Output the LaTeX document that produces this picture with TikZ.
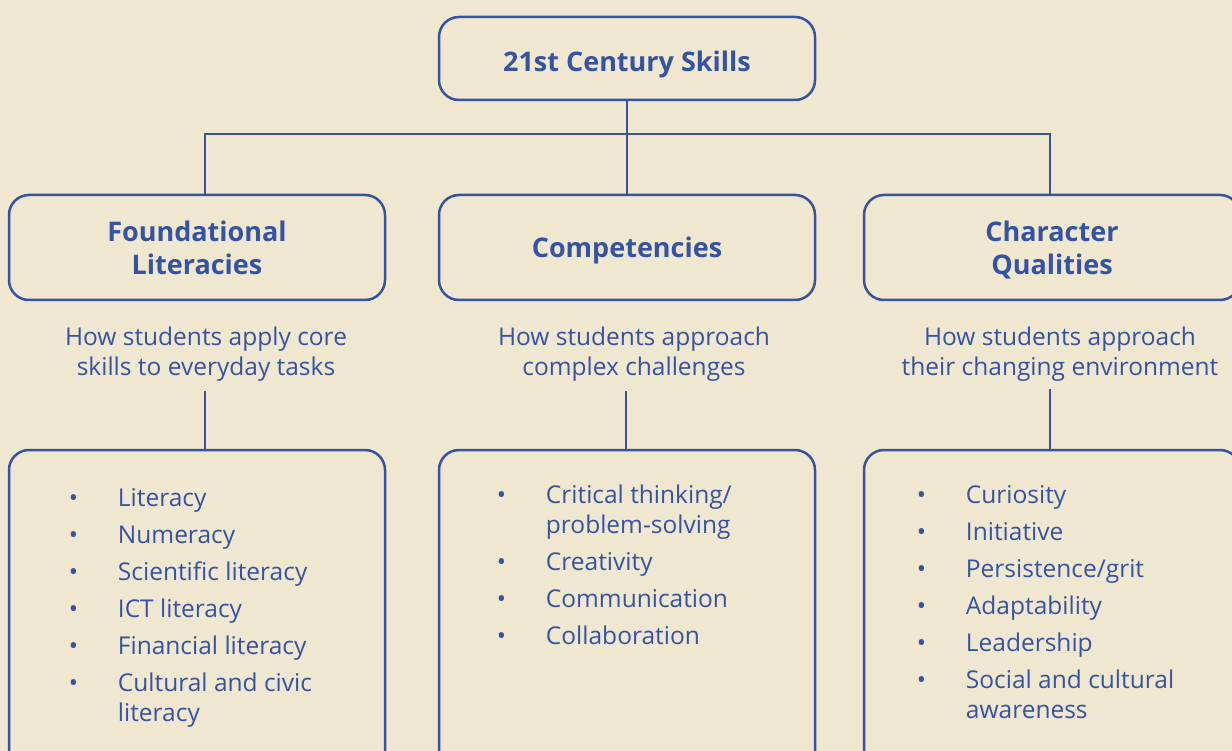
\documentclass[tikz,border=0pt]{standalone}
\usepackage{fontspec}
\setmainfont{Open Sans}
\usepackage{array}
\usetikzlibrary{positioning}
\definecolor{skill blue}{HTML}{3453A2}
\definecolor{paper}{HTML}{F0E7D0}
\tikzset{
  headbox/.style={draw=skill blue, line width=2.5pt, rounded corners=20pt, text=skill blue,
    font=\fontsize{27}{33}\selectfont\bfseries, align=center, minimum width=376pt, text depth=0pt},
  listbox/.style={draw=skill blue, line width=2.5pt, rounded corners=20pt,
    minimum width=376pt, minimum height=330pt},
  desc/.style={text=skill blue, font=\fontsize{24.5}{30}\selectfont, align=center},
  items/.style={text=skill blue, font=\fontsize{24.5}{30}\selectfont, anchor=base west, inner sep=0pt},
  link/.style={draw=skill blue, line width=2pt}
}
\newcommand{\skilllist}[1]{\renewcommand{\arraystretch}{1}%
  \begin{tabular}[t]{@{}p{49pt}@{}p{260pt}@{}}#1\end{tabular}}

\begin{document}
\begin{tikzpicture}[x=1pt, y=-1pt]
	\clip (0,0) rectangle (1232,751);
	\fill[paper] (0,0) rectangle (1232,751);

	\node[headbox, minimum height=83pt, text height=26pt] (top) at (627,58.5) {21st Century Skills};

	\node[headbox, minimum height=105pt, below=92.5pt of top] (comp) {Competencies};
	\node[headbox, minimum height=105pt, left=51.5pt of comp] (found) {Foundational\\Literacies};
	\node[headbox, minimum height=105pt, right=46.5pt of comp] (char) {Character\\Qualities};

	\node[desc] (fdesc) at (206,354) {How students apply core\\skills to everyday tasks};
	\node[desc] (cdesc) at (634,354) {How students approach\\complex challenges};
	\node[desc] (qdesc) at (1060,354) {How students approach\\their changing environment};

	\node[listbox, below=147.5pt of found] (flist) {};
	\node[listbox, below=147.5pt of comp] (clist) {};
	\node[listbox, below=147.5pt of char] (qlist) {};

	\node[items] (fitems) at ([xshift=61pt, yshift=-58pt]flist.north west) {\skilllist{
		• & Literacy\\[7pt]
		• & Numeracy\\[7pt]
		• & Scientific literacy\\[7pt]
		• & ICT literacy\\[7pt]
		• & Financial literacy\\[7pt]
		• & Cultural and civic\newline literacy}};
	\node[items] (citems) at ([xshift=59pt, yshift=-55pt]clist.north west) {\skilllist{
		• & Critical thinking/\newline problem-solving\\[37pt]
		• & Creativity\\[7pt]
		• & Communication\\[7pt]
		• & Collaboration}};
	\node[items] (qitems) at ([xshift=54pt, yshift=-55pt]qlist.north west) {\skilllist{
		• & Curiosity\\[7pt]
		• & Initiative\\[7pt]
		• & Persistence/grit\\[7pt]
		• & Adaptability\\[7pt]
		• & Leadership\\[7pt]
		• & Social and cultural\newline awareness}};

	\coordinate (bus) at (0,134);
	\path[link] (top) -- (comp);
	\path[link] ([xshift=7.5pt]found.north) |- (top |- bus) -| ([xshift=-2.5pt]char.north);
	\path[link, shorten <=6pt] ([xshift=7.5pt]flist.north |- fdesc.south) -- ([xshift=7.5pt]flist.north);
	\path[link, shorten <=6pt] ([xshift=-1pt]clist.north |- cdesc.south) -- ([xshift=-1pt]clist.north);
	\path[link, shorten <=4pt] ([xshift=-2.5pt]qlist.north |- qdesc.south) -- ([xshift=-2.5pt]qlist.north);
\end{tikzpicture}
\end{document}
